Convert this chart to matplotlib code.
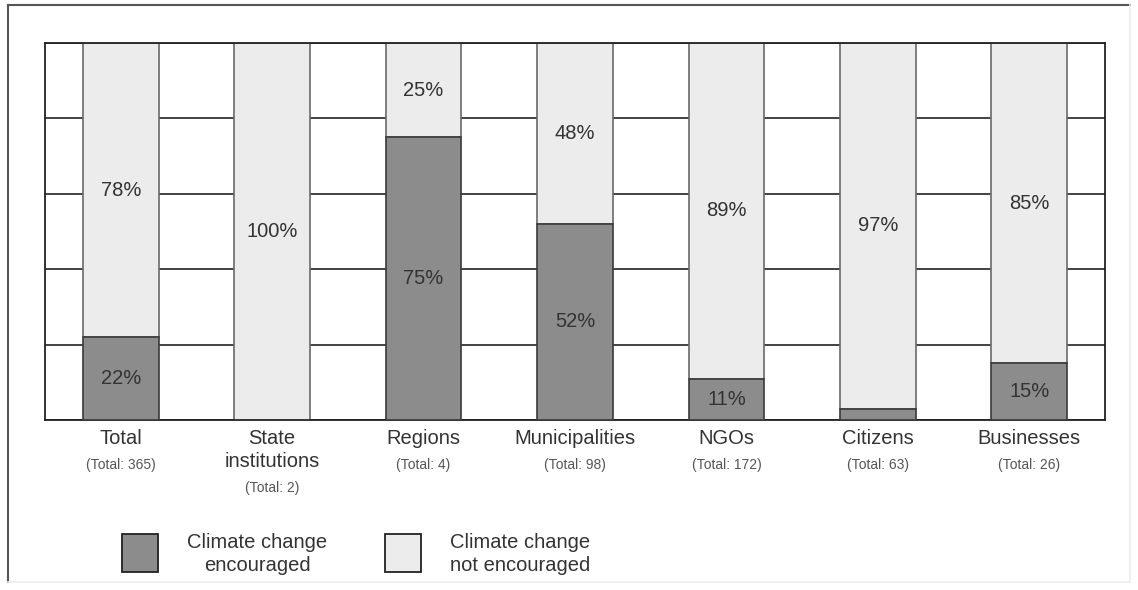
import matplotlib.pyplot as plt
from matplotlib.patches import Rectangle
from matplotlib.lines import Line2D

plt.rcParams['font.family'] = ['Liberation Sans', 'DejaVu Sans']

categories = ["Total", "State\ninstitutions", "Regions", "Municipalities",
              "NGOs", "Citizens", "Businesses"]
totals = [365, 2, 4, 98, 172, 63, 26]
encouraged = [22, 0, 75, 52, 11, 3, 15]
not_encouraged = [78, 100, 25, 48, 89, 97, 85]

dark = "#8c8c8c"
light = "#ececec"
edge = "#3a3a3a"
txt = "#333333"
fs = 14.5

fig = plt.figure(figsize=(11.38, 5.9), dpi=100)
ax = fig.add_axes([45 / 1138, 1 - 420 / 590, 1060 / 1138, 377 / 590])

x = list(range(len(categories)))
ax.bar(x, encouraged, width=0.5, color=dark, edgecolor=edge, linewidth=1.2, zorder=3)
ax.bar(x, not_encouraged, width=0.5, bottom=encouraged, color=light,
       edgecolor="#6a6a6a", linewidth=1.2, zorder=2)

for i in x:
    if encouraged[i] >= 10:
        ax.text(i, encouraged[i] / 2, f"{encouraged[i]}%", ha="center", va="center",
                fontsize=fs, color=txt, zorder=5)
    if not_encouraged[i] >= 10:
        ax.text(i, encouraged[i] + not_encouraged[i] / 2, f"{not_encouraged[i]}%",
                ha="center", va="center", fontsize=fs, color=txt, zorder=5)

ax.set_xlim(-0.5, len(categories) - 0.5)
ax.set_ylim(0, 100)
ax.set_yticks([0, 20, 40, 60, 80, 100])
ax.yaxis.grid(True, color="#222222", linewidth=1.2, zorder=0)
ax.set_axisbelow(True)
ax.tick_params(left=False, bottom=False, labelleft=False, labelbottom=False)
for s in ax.spines.values():
    s.set_color("#222222")
    s.set_linewidth(1.3)

# category names and counts under the axis
for i, (name, n) in enumerate(zip(categories, totals)):
    ax.annotate(name, (i, 0), xytext=(0, -6.5), textcoords="offset points",
                ha="center", va="top", fontsize=fs, color=txt, linespacing=1.28)
    lines = name.count("\n") + 1
    ax.annotate(f"(Total: {n})", (i, 0), xytext=(0, -32.5 - 16.6 * (lines - 1)),
                textcoords="offset points", ha="center", va="center",
                fontsize=10, color="#555555")

# legend drawn by hand in figure pixels
def fx(px):
    return px / 1138

def fy(py):
    return 1 - py / 590

fig.patches.append(Rectangle((fx(122), fy(572)), 36 / 1138, 38 / 590, transform=fig.transFigure,
                             facecolor=dark, edgecolor="#222222", linewidth=1.3))
fig.text(fx(257), fy(554), "Climate change\nencouraged", ha="center", va="center",
         fontsize=fs, color=txt, linespacing=1.28)
fig.patches.append(Rectangle((fx(385), fy(572)), 36 / 1138, 38 / 590, transform=fig.transFigure,
                             facecolor=light, edgecolor="#222222", linewidth=1.3))
fig.text(fx(520), fy(554), "Climate change\nnot encouraged", ha="center", va="center",
         fontsize=fs, color=txt, linespacing=1.28)

# outer frame
fig.add_artist(Line2D([fx(8), fx(8)], [fy(5), fy(582)], transform=fig.transFigure,
                      color="#555555", linewidth=1.5))
fig.add_artist(Line2D([fx(8), fx(1130)], [fy(5), fy(5)], transform=fig.transFigure,
                      color="#555555", linewidth=1.5))
fig.add_artist(Line2D([fx(1130), fx(1130)], [fy(5), fy(582)], transform=fig.transFigure,
                      color="#eeeeee", linewidth=1.2))
fig.add_artist(Line2D([fx(8), fx(1130)], [fy(582), fy(582)], transform=fig.transFigure,
                      color="#eeeeee", linewidth=1.2))

fig.savefig("out.png", dpi=100)
